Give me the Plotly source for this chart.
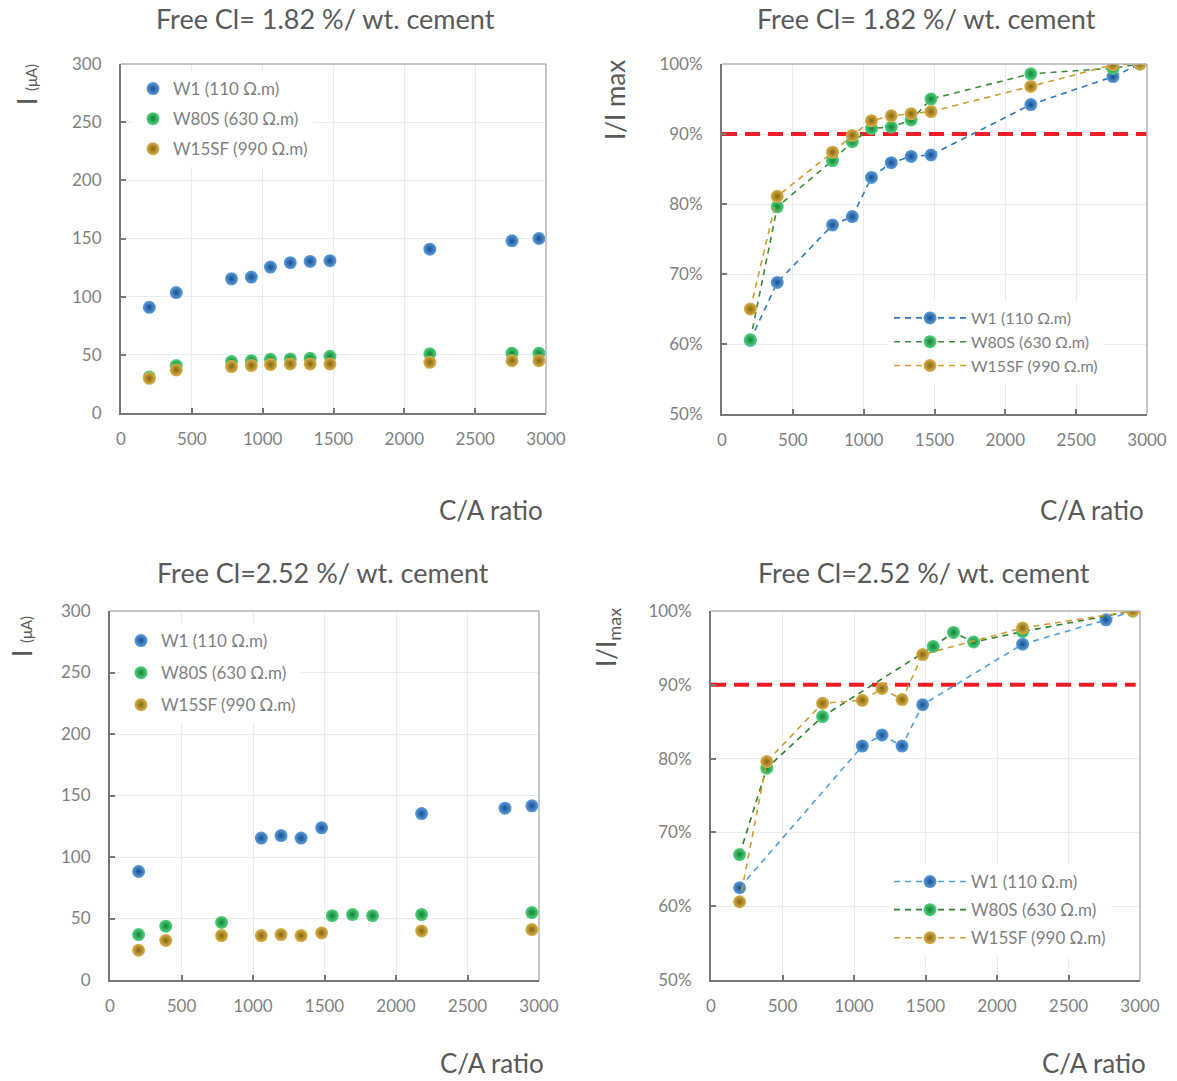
import plotly.graph_objects as go

W, H = 1177, 1081

# ---------------- data ----------------
series_names = ["W1 (110 Ω.m)", "W80S (630 Ω.m)", "W15SF (990 Ω.m)"]

# top row: Free Cl = 1.82 %
ca_top = [200, 390, 780, 920, 1055, 1195, 1335, 1475, 2180, 2760, 2950]
i_top_w1 = [90.8, 103.5, 115.3, 116.8, 125.4, 129.2, 130.3, 130.9, 140.8, 148.0, 150.0]
i_top_w80s = [31.0, 40.8, 44.2, 45.0, 46.2, 46.5, 47.0, 48.8, 50.9, 51.4, 51.4]
i_top_w15sf = [29.8, 37.0, 39.9, 40.8, 41.6, 42.2, 42.2, 42.2, 43.6, 45.0, 45.0]
r_top_w1 = [60.5, 68.8, 77.0, 78.2, 83.8, 85.9, 86.8, 87.0, 94.2, 98.2, 100.0]
r_top_w80s = [60.6, 79.6, 86.2, 88.9, 90.8, 91.0, 92.0, 95.0, 98.6, 99.4, 100.0]
r_top_w15sf = [65.0, 81.1, 87.4, 89.8, 91.9, 92.6, 92.9, 93.2, 96.8, 99.9, 100.0]

# bottom row: Free Cl = 2.52 %
ca_bot_w1 = [200, 1058, 1196, 1336, 1480, 2179, 2762, 2950]
ca_bot_w80s = [200, 390, 780, 1554, 1696, 1836, 2179, 2950]
ca_bot_w15sf = [200, 390, 780, 1058, 1196, 1336, 1480, 2179, 2950]
i_bot_w1 = [88.2, 115.4, 117.4, 115.4, 123.7, 135.3, 139.7, 141.6]
i_bot_w80s = [36.9, 43.8, 46.8, 52.3, 53.2, 52.3, 53.2, 54.8]
i_bot_w15sf = [24.2, 32.2, 36.1, 36.1, 36.9, 36.1, 38.3, 39.9, 41.0]
r_bot_w1 = [62.5, 81.7, 83.2, 81.7, 87.3, 95.5, 98.8, 100.0]
r_bot_w80s = [67.0, 78.7, 85.7, 95.2, 97.1, 95.8, 97.2, 100.0]
r_bot_w15sf = [60.6, 79.6, 87.5, 87.9, 89.5, 88.0, 94.1, 97.7, 100.0]

threshold = 90
threshold_x_top = [0, 3000]
threshold_x_bot = [0, 2970]

x_ticks = [0, 500, 1000, 1500, 2000, 2500, 3000]

titles = ["Free Cl= 1.82 %/ wt. cement", "Free Cl= 1.82 %/ wt. cement",
          "Free Cl=2.52 %/ wt. cement", "Free Cl=2.52 %/ wt. cement"]

# ---------------- styling ----------------
FONT = "Lato, 'Open Sans', sans-serif"
TXT = "#595959"
TICK = "#7f7f7f"
marker_center = ["#5d9ddb", "#52d27e", "#dbb24a"]
marker_edge = ["#174f92", "#0f8236", "#85650e"]
line_top = ["#2a78c4", "#3d8a3d", "#d19c2e"]
line_bot = ["#4fa0e0", "#2e7d32", "#d19c2e"]

def px_x(p):
    return p / W

def px_y(p):
    return 1 - p / H

# plot areas in pixels: (left, right, top, bottom)
areas = [(121, 546, 64, 413), (722, 1147, 64, 414), (110, 539, 611, 980), (711, 1140, 611, 980)]

fig = go.Figure()

def mk(i):
    return dict(size=13, color=marker_center[i], symbol="circle",
                gradient=dict(type="radial", color=marker_edge[i]),
                line=dict(width=0))

panels = [
    ("x", "y", "legend", [ca_top] * 3, [i_top_w1, i_top_w80s, i_top_w15sf], False, None, None),
    ("x2", "y2", "legend2", [ca_top] * 3, [r_top_w1, r_top_w80s, r_top_w15sf], True, line_top, threshold_x_top),
    ("x3", "y3", "legend3", [ca_bot_w1, ca_bot_w80s, ca_bot_w15sf], [i_bot_w1, i_bot_w80s, i_bot_w15sf], False, None, None),
    ("x4", "y4", "legend4", [ca_bot_w1, ca_bot_w80s, ca_bot_w15sf], [r_bot_w1, r_bot_w80s, r_bot_w15sf], True, line_bot, threshold_x_bot),
]

for pi, (xa, ya, lg, xs, ys, lines, lcol, thx) in enumerate(panels):
    if thx is not None:
        fig.add_trace(go.Scatter(x=thx, y=[threshold, threshold], mode="lines", xaxis=xa, yaxis=ya,
                                 line=dict(color="#ee1c25", width=4, dash="15px,8px"),
                                 showlegend=False, hoverinfo="skip", cliponaxis=False))
    for si in range(3):
        tr = dict(x=xs[si], y=ys[si], name=series_names[si], xaxis=xa, yaxis=ya,
                  legend=lg, legendgroup=f"g{pi}{si}", marker=mk(si), hoverinfo="x+y")
        if lines:
            tr["mode"] = "lines+markers"
            tr["line"] = dict(color=lcol[si], width=1.6, dash="6px,5px")
        else:
            tr["mode"] = "markers"
        fig.add_trace(go.Scatter(**tr))

layout = dict(width=W, height=H, margin=dict(l=0, r=0, t=0, b=0),
              paper_bgcolor="white", plot_bgcolor="white",
              font=dict(family=FONT, color=TICK, size=17), showlegend=True)

axis_names = [("xaxis", "yaxis"), ("xaxis2", "yaxis2"), ("xaxis3", "yaxis3"), ("xaxis4", "yaxis4")]
anchors = [("y", "x"), ("y2", "x2"), ("y3", "x3"), ("y4", "x4")]
shapes = []
for k, ((xn, yn), (l, r, t, b)) in enumerate(zip(axis_names, areas)):
    pct = k in (1, 3)
    layout[xn] = dict(domain=[px_x(l), px_x(r)], anchor=anchors[k][0], range=[0, 3000],
                      tickvals=x_ticks, showgrid=True, gridcolor="#ebebeb", gridwidth=1,
                      showline=True, linecolor="#7a7676", linewidth=2, zeroline=False,
                      ticks="inside", ticklen=5, tickcolor="#7a7676", tickwidth=1.5,
                      tickfont=dict(size=17, color=TICK, family=FONT),
                      ticklabelstandoff=10, automargin=False, fixedrange=True)
    ydict = dict(domain=[px_y(b), px_y(t)], anchor=anchors[k][1],
                 showgrid=True, gridcolor="#ebebeb", gridwidth=1,
                 showline=True, linecolor="#7a7676", linewidth=2, zeroline=False,
                 ticks="inside", ticklen=5, tickcolor="#7a7676", tickwidth=1.5,
                 tickfont=dict(size=17, color=TICK, family=FONT),
                 ticklabelstandoff=14, automargin=False, fixedrange=True)
    if pct:
        ydict.update(range=[50, 100], dtick=10, ticksuffix="%")
    else:
        ydict.update(range=[0, 300], dtick=50)
    layout[yn] = ydict
    xr = anchors[k][1]
    yr = anchors[k][0]
    # lighter top and right frame lines
    shapes.append(dict(type="line", xref=f"{xr} domain", yref=f"{yr} domain",
                       x0=0, x1=1, y0=1, y1=1, line=dict(color="#b5b2b2", width=1.5), layer="above"))
    shapes.append(dict(type="line", xref=f"{xr} domain", yref=f"{yr} domain",
                       x0=1, x1=1, y0=0, y1=1, line=dict(color="#b5b2b2", width=1.5), layer="above"))

layout["shapes"] = shapes

# legends
leg_common = dict(xref="paper", yref="paper", xanchor="left", yanchor="top",
                  bgcolor="white", borderwidth=0,
                  font=dict(size=17, color=TICK, family=FONT))
layout["legend"] = dict(leg_common, x=px_x(133), y=px_y(71), tracegroupgap=5, itemwidth=30)
layout["legend2"] = dict(leg_common, x=px_x(889), y=px_y(301), tracegroupgap=0, itemwidth=72,
                         font=dict(size=16, color=TICK, family=FONT))
layout["legend3"] = dict(leg_common, x=px_x(121), y=px_y(623), tracegroupgap=7, itemwidth=30)
layout["legend4"] = dict(leg_common, x=px_x(889), y=px_y(864), tracegroupgap=3, itemwidth=72)

ann = []
title_pos = [(325, 19), (926, 19), (323, 572), (924, 572)]
for (cx, cy), t in zip(title_pos, titles):
    ann.append(dict(text=t, x=px_x(cx), y=px_y(cy), xref="paper", yref="paper",
                    xanchor="center", yanchor="middle", showarrow=False,
                    font=dict(size=27, color=TXT, family=FONT)))
xt_pos = [(545, 510), (1146, 510), (546, 1063), (1148, 1063)]
for (rx, cy) in xt_pos:
    ann.append(dict(text="C/A ratio", x=px_x(rx), y=px_y(cy), xref="paper", yref="paper",
                    xanchor="right", yanchor="middle", showarrow=False,
                    font=dict(size=26, color=TXT, family=FONT)))
yt = [
    ("I <span style='font-size:15px'>(μA)</span>", 27, 85),
    ("I/I max", 615, 100),
    ("I <span style='font-size:15px'>(μA)</span>", 22, 637),
    ("I/I<sub>max</sub>", 607, 638),
]
for txt, cx, cy in yt:
    ann.append(dict(text=txt, x=px_x(cx), y=px_y(cy), xref="paper", yref="paper",
                    xanchor="center", yanchor="middle", showarrow=False, textangle=-90,
                    font=dict(size=26, color=TXT, family=FONT)))
layout["annotations"] = ann

fig.update_layout(**layout)
fig.write_html("out.html", config={"displayModeBar": False},
               post_script="document.body.style.margin='0';document.body.style.overflow='hidden';")
